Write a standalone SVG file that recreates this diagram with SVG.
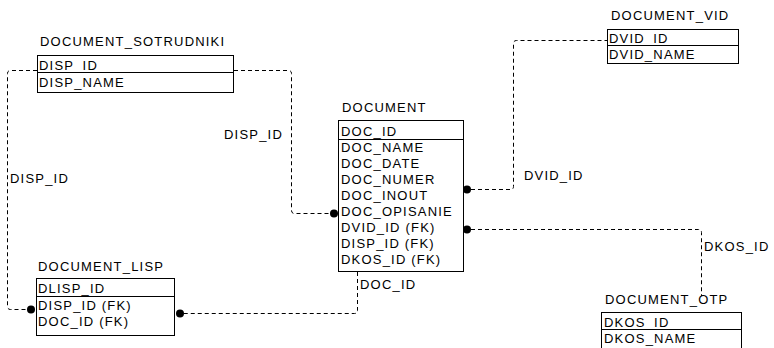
<svg xmlns="http://www.w3.org/2000/svg" width="774" height="348" viewBox="0 0 774 348">
<style>
text{font-family:"Liberation Sans",Arial,sans-serif;font-size:13px;letter-spacing:1.2px;fill:#000}
.box{fill:#fff;stroke:#000;stroke-width:1}
.div{stroke:#000;stroke-width:1}
.con{fill:none;stroke:#000;stroke-width:1;stroke-dasharray:4 3}
.dot{fill:#000}
</style>
<rect width="774" height="348" fill="#fff"/>
<g id="connectors">
<path class="con" d="M471,189.5 H510.5 Q513.5,189.5 513.5,186.5 V43.5 Q513.5,40.5 516.5,40.5 H607"/>
<path class="con" d="M234,70.5 H288.5 Q291.5,70.5 291.5,73.5 V210.5 Q291.5,213.5 294.5,213.5 H330"/>
<path class="con" d="M37,70.5 H10.5 Q7.5,70.5 7.5,73.5 V306.5 Q7.5,309.5 10.5,309.5 H27"/>
<path class="con" d="M357.5,272 V310.5 Q357.5,313.5 354.5,313.5 H184"/>
<path class="con" d="M471,229.5 H698.5 Q701.5,229.5 701.5,232.5 V296"/>
<circle class="dot" cx="467" cy="189.5" r="4"/>
<circle class="dot" cx="334" cy="213.5" r="4"/>
<circle class="dot" cx="31" cy="309.5" r="4"/>
<circle class="dot" cx="180" cy="313.5" r="4"/>
<circle class="dot" cx="467" cy="229.5" r="4"/>
<text x="224" y="139">DISP_ID</text>
<text x="10" y="183">DISP_ID</text>
<text x="524" y="180">DVID_ID</text>
<text x="360" y="289">DOC_ID</text>
<text x="704" y="251">DKOS_ID</text>
</g>
<g id="DOCUMENT_SOTRUDNIKI">
<text x="40" y="46">DOCUMENT_SOTRUDNIKI</text>
<rect class="box" x="37.5" y="55.5" width="196" height="37"/>
<line class="div" x1="37.5" y1="72.5" x2="233.5" y2="72.5"/>
<text x="39" y="70">DISP_ID</text>
<text x="39" y="87">DISP_NAME</text>
</g>
<g id="DOCUMENT_VID">
<text x="611" y="20">DOCUMENT_VID</text>
<rect class="box" x="607.5" y="29.5" width="131" height="34"/>
<line class="div" x1="607.5" y1="45.5" x2="738.5" y2="45.5"/>
<text x="609" y="43">DVID_ID</text>
<text x="609" y="59">DVID_NAME</text>
</g>
<g id="DOCUMENT">
<text x="342" y="112">DOCUMENT</text>
<rect class="box" x="338.5" y="120.5" width="125" height="151"/>
<line class="div" x1="338.5" y1="139.5" x2="463.5" y2="139.5"/>
<text x="341" y="136">DOC_ID</text>
<text x="341" y="152">DOC_NAME</text>
<text x="341" y="168">DOC_DATE</text>
<text x="341" y="184">DOC_NUMER</text>
<text x="341" y="200">DOC_INOUT</text>
<text x="341" y="216">DOC_OPISANIE</text>
<text x="341" y="232">DVID_ID (FK)</text>
<text x="341" y="248">DISP_ID (FK)</text>
<text x="341" y="264">DKOS_ID (FK)</text>
</g>
<g id="DOCUMENT_LISP">
<text x="38" y="271">DOCUMENT_LISP</text>
<rect class="box" x="36.5" y="278.5" width="138" height="57"/>
<line class="div" x1="36.5" y1="296.5" x2="174.5" y2="296.5"/>
<text x="38" y="293">DLISP_ID</text>
<text x="38" y="310">DISP_ID (FK)</text>
<text x="38" y="326">DOC_ID (FK)</text>
</g>
<g id="DOCUMENT_OTP">
<text x="605" y="304">DOCUMENT_OTP</text>
<rect class="box" x="601.5" y="312.5" width="140" height="40"/>
<line class="div" x1="601.5" y1="329.5" x2="741.5" y2="329.5"/>
<text x="604" y="327">DKOS_ID</text>
<text x="604" y="343">DKOS_NAME</text>
</g>
</svg>
